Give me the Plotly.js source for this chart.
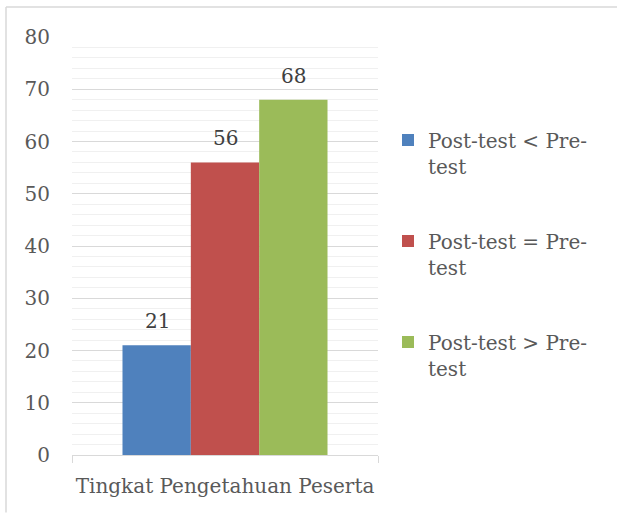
<!DOCTYPE html>
<html>
<head>
<meta charset="utf-8">
<script src="https://cdn.plot.ly/plotly-3.0.1.min.js"></script>
<style>html,body{margin:0;padding:0;background:#fff;}#chart{width:617px;height:513px;}</style>
</head>
<body>
<div id="chart"></div>
<script>
var categories = ["Tingkat Pengetahuan Peserta"];
var seriesNames = ["Post-test &lt; Pre-<br>test", "Post-test = Pre-<br>test", "Post-test &gt; Pre-<br>test"];
var seriesValues = [[21], [56], [68]];
var seriesColors = ["#4f81bd", "#c0504d", "#9bbb59"];
var yTicks = [0, 10, 20, 30, 40, 50, 60, 70, 80];

var FONT = "DejaVu Serif";
var traces = seriesValues.map(function (vals, i) {
  return {
    type: "bar",
    x: categories,
    y: vals,
    name: seriesNames[i],
    legendgroup: "g" + i,
    marker: { color: seriesColors[i], line: { width: 0 } },
    hoverinfo: "skip"
  };
});

var barPx = 68;
var annotations = [];
seriesValues.forEach(function (vals, i) {
  vals.forEach(function (v, j) {
    annotations.push({
      x: categories[j], y: v, xref: "x", yref: "y",
      text: String(v), showarrow: false,
      xshift: (i - 1) * barPx, yshift: 24, yanchor: "middle",
      font: { family: FONT, size: 20, color: "#404040" }
    });
  });
});

var layout = {
  width: 617, height: 513,
  margin: { l: 72, r: 239, t: 37, b: 57.5, pad: 0 },
  paper_bgcolor: "#ffffff", plot_bgcolor: "#ffffff",
  barmode: "group", bargap: 0.33, bargroupgap: 0,
  showlegend: true,
  legend: {
    x: (388 - 72) / 306, xanchor: "left",
    y: 0.80, yanchor: "top",
    valign: "top",
    traceorder: "grouped", tracegroupgap: 46,
    font: { family: FONT, size: 20, color: "#595959" },
    bgcolor: "rgba(0,0,0,0)"
  },
  xaxis: {
    type: "category",
    showgrid: false, zeroline: false,
    showline: true, linecolor: "#d9d9d9", linewidth: 1,
    ticks: "outside", tickson: "boundaries", ticklen: 7, tickcolor: "#d9d9d9", tickwidth: 1,
    tickangle: 0,
    tickfont: { family: FONT, size: 20, color: "#595959" },
    ticklabelstandoff: 13
  },
  yaxis: {
    range: [0, 80],
    tickvals: yTicks, ticktext: yTicks.map(String),
    showgrid: true, gridcolor: "#d9d9d9", gridwidth: 1,
    zeroline: false, showline: false, ticks: "",
    minor: { dtick: 2, tick0: 0, showgrid: true, gridcolor: "#f0f0f0", gridwidth: 1, ticks: "" },
    tickfont: { family: FONT, size: 20, color: "#595959" },
    ticklabelstandoff: 21
  },
  annotations: annotations,
  shapes: [
    { type: "line", xref: "paper", yref: "paper", x0: (6 - 72) / 306, x1: (617 - 72) / 306,
      y0: (455.5 - 7) / 418.5, y1: (455.5 - 7) / 418.5, line: { color: "#d9d9d9", width: 1.5 } },
    { type: "line", xref: "paper", yref: "paper", x0: (6 - 72) / 306, x1: (6 - 72) / 306,
      y0: (455.5 - 7) / 418.5, y1: (455.5 - 513) / 418.5, line: { color: "#d9d9d9", width: 1.5 } }
  ]
};

Plotly.newPlot("chart", traces, layout, { displayModeBar: false, staticPlot: true });
</script>
</body>
</html>
